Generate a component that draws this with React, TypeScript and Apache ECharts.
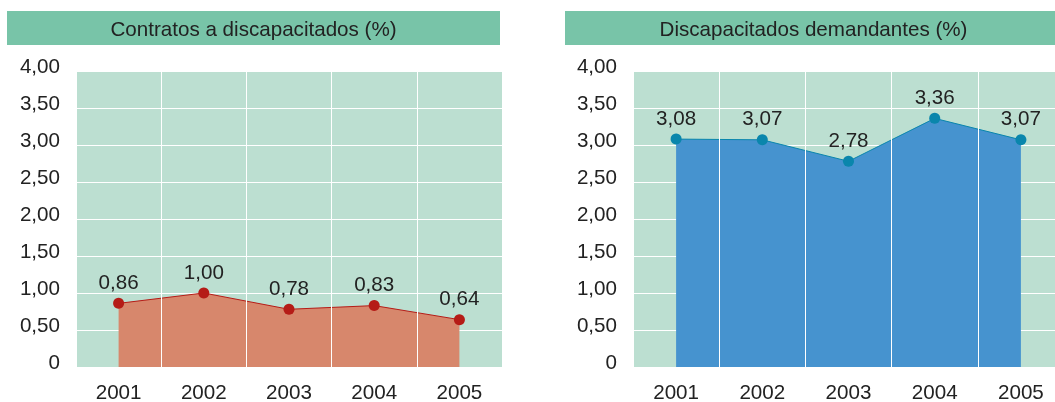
import React, { useEffect, useRef } from "react";
import * as echarts from "echarts";

const years = ["2001", "2002", "2003", "2004", "2005"];
const contratos = [0.86, 1.0, 0.78, 0.83, 0.64];
const demandantes = [3.08, 3.07, 2.78, 3.36, 3.07];
const yTicks = [0, 0.5, 1, 1.5, 2, 2.5, 3, 3.5, 4];
const titleLeft = "Contratos a discapacitados (%)";
const titleRight = "Discapacitados demandantes (%)";

const FONT = "'Liberation Sans', Arial, Helvetica, sans-serif";
const TEXT = "#222222";
const FS = 20.6;
const W = 1066;
const fmt = (v: number) => (v === 0 ? "0" : v.toFixed(2).replace(".", ","));

export default function App() {
  const ref = useRef<HTMLDivElement>(null);
  useEffect(() => {
    if (!ref.current) return;
    const chart = echarts.init(ref.current, undefined, { renderer: "svg" });
    const grids = [
      { left: 76, right: W - 502, top: 71, bottom: 402 - 368 },
      { left: 633, right: W - 1064, top: 71, bottom: 402 - 368 },
    ];
    const mkX = (i: number) => ({
      type: "category",
      gridIndex: i,
      data: years,
      boundaryGap: true,
      z: 5,
      axisLine: { show: false },
      axisTick: { show: false },
      axisLabel: { fontSize: FS, color: TEXT, fontFamily: FONT, margin: 14 },
      splitLine: { show: true, lineStyle: { color: "#ffffff", width: 1 } },
    });
    const mkY = (i: number) => ({
      type: "value",
      gridIndex: i,
      min: 0,
      max: yTicks[yTicks.length - 1],
      interval: 0.5,
      axisLine: { show: false },
      axisTick: { show: false },
      axisLabel: {
        fontSize: FS,
        color: TEXT,
        fontFamily: FONT,
        margin: 16,
        verticalAlign: "bottom",
        lineHeight: 12,
        formatter: (v: number) => fmt(v),
      },
      splitLine: { show: true, lineStyle: { color: "#ffffff", width: 1 } },
    });
    const mkSeries = (i: number, data: number[], area: string, line: string) => ({
      type: "line",
      xAxisIndex: i,
      yAxisIndex: i,
      data,
      symbol: "circle",
      symbolSize: 11,
      lineStyle: { color: line, width: 1 },
      itemStyle: { color: line },
      areaStyle: { color: area, opacity: 1 },
      label: {
        show: true,
        position: "top",
        distance: 6,
        fontSize: FS,
        color: TEXT,
        fontFamily: FONT,
        formatter: (p: any) => fmt(p.value),
      },
    });
    chart.setOption({
      animation: false,
      textStyle: { fontFamily: FONT },
      grid: grids.map((g) => ({ ...g, show: true, backgroundColor: "#bcdfd1", borderWidth: 0 })),
      xAxis: [mkX(0), mkX(1)],
      yAxis: [mkY(0), mkY(1)],
      series: [
        mkSeries(0, contratos, "#d7876c", "#b51c17"),
        mkSeries(1, demandantes, "#4693cf", "#0a86ac"),
      ],
      graphic: [
        { type: "rect", shape: { x: 7, y: 11, width: 493, height: 34 }, style: { fill: "#78c4a8" } },
        { type: "rect", shape: { x: 565, y: 11, width: 500, height: 34 }, style: { fill: "#78c4a8" } },
        {
          type: "text",
          x: 253.5,
          y: 28,
          style: { text: titleLeft, fontSize: FS, fontFamily: FONT, fill: TEXT, align: "center", verticalAlign: "middle", textAlign: "center", textVerticalAlign: "middle" },
        },
        {
          type: "text",
          x: 813.5,
          y: 28,
          style: { text: titleRight, fontSize: FS, fontFamily: FONT, fill: TEXT, align: "center", verticalAlign: "middle", textAlign: "center", textVerticalAlign: "middle" },
        },
      ],
    });
    return () => chart.dispose();
  }, []);
  return <div ref={ref} style={{ position: "fixed", left: 0, top: 0, width: W, height: 402 }} />;
}
